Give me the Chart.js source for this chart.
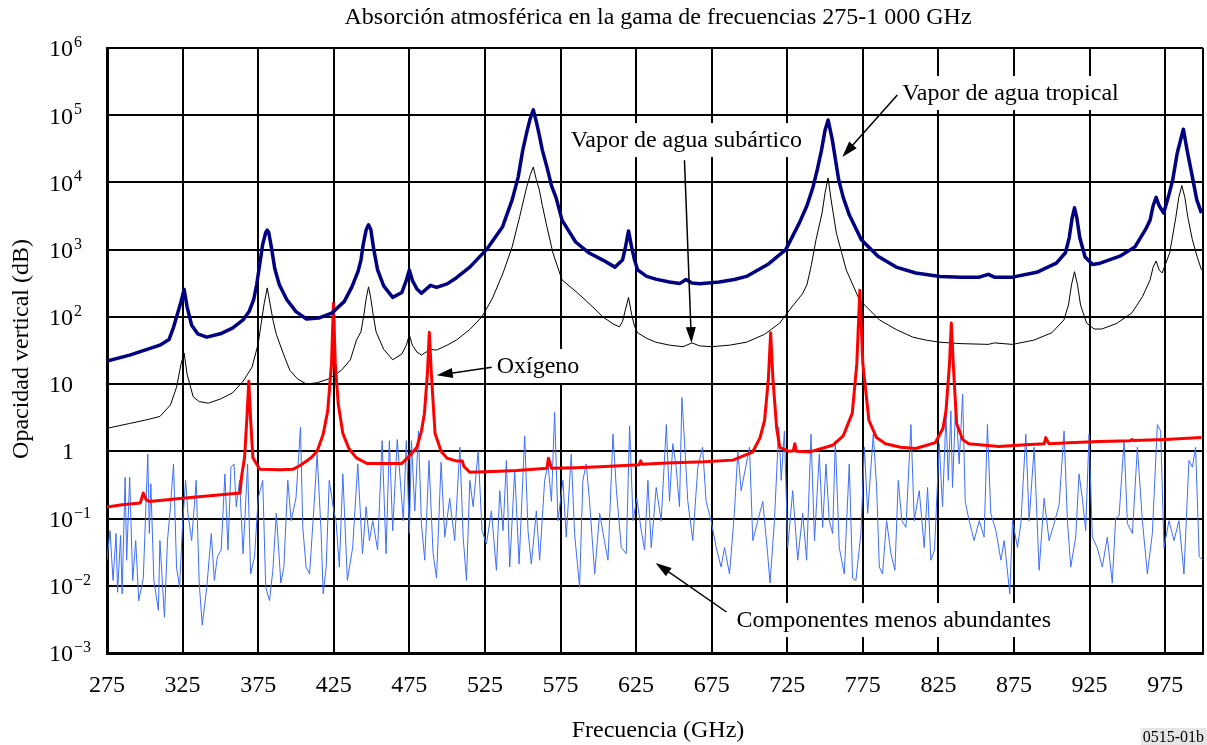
<!DOCTYPE html>
<html>
<head>
<meta charset="utf-8">
<script src="https://cdn.jsdelivr.net/npm/chart.js@4.4.1/dist/chart.umd.min.js"></script>
<style>
  html, body { margin: 0; padding: 0; background: #fff; }
  canvas { display: block; }
</style>
</head>
<body>
<canvas id="absChart" width="1207" height="745"></canvas>
<script>
// frecuencia (GHz), opacidad (dB)
var tropical = [[275,22],[290,27],[300,32],[310,38],[316,46],[319,70],[321,100],[324,170],[326,257],[328,140],[331,75],[335,56],[341,50],[350,56],[358,68],[365,90],[369,120],[372,180],[374,300],[376,600],[378,1200],[380,1800],[381,1950],[382,1800],[384,1000],[386,520],[389,300],[394,180],[400,120],[407,93],[415,96],[424,115],[432,170],[437,280],[441,470],[443,700],[444.5,1200],[446.5,2000],[448,2350],[449.5,2000],[451.5,1000],[454,500],[458,290],[464,195],[470,230],[473,350],[475,500],[477,350],[480,260],[483,225],[489,295],[493,275],[500,310],[506,380],[515,550],[526,1000],[536.7,2200],[543,5500],[547,12000],[550,30000],[553,60000],[555,90000],[557,120000],[559,80000],[561,50000],[563,30000],[566,17000],[569,9000],[572,6000],[576,2750],[585,1300],[594,890],[603,700],[611,550],[616,700],[618,1100],[620,1900],[622,1100],[624,700],[626,500],[632,400],[638,365],[647,330],[654,315],[658,360],[662,320],[667,310],[680,330],[690,360],[698,400],[712,600],[724,1000],[733,2500],[738,4500],[742,8500],[745,16000],[747.6,30000],[750,60000],[752,85000],[754.8,43000],[759,11000],[762,6000],[766,3300],[774,1400],[785,800],[797,550],[810,450],[826,400],[840,390],[852,390],[858,430],[862,390],[874,390],[890,460],[903,630],[909,900],[911.5,1500],[913.5,3000],[915,4200],[916.5,3000],[918.5,1500],[922,780],[927,600],[932,630],[945,800],[955,1100],[962,2000],[965,2750],[967,4500],[969,6000],[971,4500],[974,3500],[977,6000],[980,11000],[982.9,27000],[987,62000],[989.5,30000],[993,12000],[995.9,5500],[999,3500]];

var subarctic = [[275,2.2],[290,2.6],[300,2.9],[310,3.3],[317,4.9],[321,9],[324,20],[326,29],[328,14],[332,6.5],[336,5.5],[342,5.2],[350,6],[358,7.4],[365,11],[371,18],[375,40],[377,80],[379,160],[381,270],[383,150],[385,85],[387,55],[392,27],[396,16],[401,12],[407,10],[414,10.5],[422,12],[430,16],[436,23],[440,45],[443,60],[445,110],[446.5,190],[448,280],[449.5,190],[451,110],[453,60],[458,33],[464,23],[470,28],[473,38],[475,54],[477,38],[480,30],[483,27],[489,33],[493,32],[500,38],[506,45],[515,65],[523,100],[530,190],[537,450],[543,1100],[548,3100],[552.6,8500],[555,13000],[557,17000],[559,11000],[561,7700],[563,4500],[566,2200],[570,890],[576,355],[586,230],[595,150],[603,100],[610,78],[614,71],[616,85],[618,130],[620,195],[622,110],[624,72],[626,58],[632,48],[638,42],[647,38],[656,36],[662,41],[667,37],[675,36],[687,38],[698,42],[710,55],[720,81],[728,140],[735,220],[738,300],[741,600],[744,1400],[748,3500],[750,7000],[752,11700],[754,5500],[757.5,1750],[761,900],[764,500],[772.7,180],[786,90],[797,65],[808,50],[817,45],[826,42],[840,40],[858,39],[862,41],[874,39],[888,45],[900,58],[908,90],[911,150],[913,300],[915,470],[917,300],[919,150],[923,81],[928,66],[933,66],[943,80],[953,115],[960,200],[965,355],[967,550],[969,680],[971,500],[973,450],[978,900],[982,3000],[984,6000],[986,9000],[988,6000],[990,3000],[993,1400],[996,800],[999,500]];

var oxygen = [[275,0.148],[285,0.16],[297,0.17],[299,0.24],[301,0.19],[303,0.18],[325,0.2],[345,0.22],[363,0.24],[364,0.42],[366,0.81],[367.5,3],[368.8,11],[370,3],[371.5,0.8],[376,0.54],[390,0.53],[398,0.54],[403,0.62],[410,0.8],[414,1],[418,1.8],[421,4],[423.5,20],[424.8,160],[426,20],[428,5],[431,1.85],[435,1.1],[440,0.8],[447,0.66],[464,0.66],[470,0.66],[476,0.9],[480,1.15],[483,2],[485,3.7],[487,15],[488.2,59],[489.5,15],[492,1.85],[496,1],[500,0.79],[506,0.72],[510,0.72],[511,0.6],[515,0.49],[530,0.5],[546,0.52],[566,0.56],[567,0.79],[569,0.56],[585,0.57],[601,0.59],[627,0.63],[628,0.72],[629,0.64],[645,0.67],[670,0.7],[689,0.74],[702,0.97],[707,1.6],[710,2.9],[712.5,12],[714,58],[715.5,12],[718,2.2],[720,1.15],[726,1],[729,1.02],[730,1.3],[731,1],[740,0.98],[755,1.23],[762,1.7],[768,3.7],[771,20],[773,250],[775,20],[779,2.9],[784,1.6],[790,1.3],[800,1.15],[810,1.1],[823,1.35],[828,2.2],[830,4],[832.3,20],[833.5,81],[834.8,20],[837,2.6],[841,1.5],[845,1.3],[865,1.18],[880,1.24],[895,1.3],[896,1.6],[898,1.3],[915,1.35],[931,1.4],[952,1.44],[953,1.5],[954,1.45],[975,1.5],[999,1.6]];

var minor = [[275,0.024],[277,0.066],[279,0.012],[281,0.06],[282,0.008],[284,0.056],[285,0.0076],[287,0.41],[288,0.024],[290,0.41],[292,0.012],[294,0.047],[296,0.006],[299,0.013],[302,0.91],[303,0.06],[304,0.33],[306,0.012],[309,0.0043],[310,0.047],[313,0.0034],[315,0.047],[317,0.15],[319,0.65],[321,0.019],[323,0.0095],[325,0.084],[327,0.37],[328.5,0.12],[331,0.047],[334,0.37],[336,0.011],[338,0.0026],[341,0.0095],[344,0.06],[346,0.012],[348,0.027],[350.5,0.034],[353,0.46],[355,0.034],[357,0.58],[359,0.65],[360.5,0.15],[362.7,0.37],[365,0.03],[366.4,0.12],[368,0.65],[370,0.015],[372.6,0.027],[375,0.2],[378,0.37],[380,0.0095],[382.5,0.006],[384.7,0.017],[387,0.12],[390,0.011],[392,0.019],[394.6,0.37],[396.8,0.093],[400,0.2],[403,2.3],[404.5,0.074],[406.7,0.019],[409,0.015],[412,0.16],[414,0.91],[416.6,0.066],[418,0.0076],[420,0.019],[422,0.37],[425,0.13],[426.5,0.093],[428.7,0.019],[431,0.46],[434,0.012],[437.5,0.037],[440.9,0.65],[444,0.03],[446.4,0.15],[448.6,0.047],[450.8,0.093],[454,0.034],[457,1.44],[459.6,0.03],[461.8,1.44],[464,0.066],[467,1.5],[471,0.093],[473,1.44],[475,0.06],[476.4,1.44],[478.6,0.13],[481,2],[483,0.084],[485.2,0.024],[488,0.73],[490.7,0.03],[493,0.013],[496,0.69],[498.4,0.053],[501.7,0.2],[505,0.047],[508.4,1.15],[510.6,0.053],[512.8,0.012],[515,0.37],[517.2,0.15],[520.5,1],[523.1,0.066],[526,0.042],[529.3,0.13],[532.6,0.017],[534.8,0.26],[537,0.066],[539.2,0.73],[541.4,0.019],[544.7,0.52],[547.6,0.021],[551.3,1.7],[553.5,0.066],[555.7,0.021],[559,0.13],[561.2,0.024],[564.5,0.37],[566.7,0.65],[569,0.18],[571.1,3.8],[573.3,0.093],[576.6,0.37],[578.8,0.053],[582.1,0.91],[584.3,0.06],[587.6,0.0095],[589.8,0.37],[592,0.65],[594.2,0.18],[597.6,0.015],[600.9,0.12],[604,0.047],[606.4,0.024],[609.7,1.8],[612,0.26],[615.2,0.037],[618.5,0.03],[620.7,2.4],[623,0.093],[625.5,0.2],[628.4,0.066],[630.6,0.034],[632.8,0.37],[635,0.037],[638.3,0.29],[641.6,0.093],[645,2.5],[647.1,0.18],[649.3,1.3],[651.5,0.58],[653.7,0.15],[655.3,6.3],[657,1.44],[659.2,0.18],[662.5,0.047],[665.8,0.58],[669,1.15],[671.3,0.18],[674.6,0.093],[678,0.037],[681.2,0.019],[683.5,0.037],[686.8,0.015],[690,0.12],[692.3,1],[694.5,0.26],[700,1.15],[702.2,0.047],[705.5,0.093],[708.8,0.18],[712,0.03],[713.6,0.011],[716.5,0.093],[719.4,2.3],[721,0.37],[723.1,2],[725.3,0.037],[728.6,0.26],[731.9,0.024],[735.2,0.12],[737.8,0.024],[740.7,1.8],[743,0.047],[746.2,0.91],[748.4,0.074],[750.6,0.65],[752.8,0.093],[755,0.06],[756.8,1.44],[759.4,0.037],[762.7,0.015],[766,0.65],[768.2,0.013],[770.4,0.012],[773.7,0.06],[776,1.15],[778.2,0.12],[781.9,1.8],[784.1,0.29],[785.9,0.019],[788,0.015],[790.7,0.093],[793.6,0.03],[796.2,0.017],[798.4,0.37],[800.8,0.093],[803.5,0.074],[806.8,2.5],[809,0.093],[812.3,0.26],[815.6,0.037],[817.8,0.29],[820,0.024],[822.4,0.034],[825.5,1.3],[827.7,0.15],[830,3.6],[831.5,0.37],[833.2,4],[834.3,0.29],[836.5,5.6],[838.7,0.65],[841,7.1],[842.7,0.18],[845.3,0.093],[848.6,0.047],[852,0.093],[855.2,0.053],[857.4,2.5],[859.6,0.12],[863,0.066],[866.3,0.024],[868.5,0.047],[872.2,0.0076],[874,0.093],[877.3,0.037],[879.5,0.084],[882.8,1.8],[885,0.093],[888.3,1.15],[891.6,0.017],[894.9,0.2],[898.2,0.047],[901.5,0.084],[904.8,0.16],[908.1,2],[910.3,0.093],[912.5,0.019],[915.8,0.053],[918,0.46],[920.2,0.2],[922.4,0.066],[924.6,1.8],[926.8,0.053],[930,0.037],[933.4,0.019],[936.7,0.053],[940,0.011],[942.2,0.1],[944.5,0.11],[947.8,1.44],[950,0.084],[953.3,0.06],[956.6,1.15],[959.9,0.093],[963.2,0.015],[966.5,0.06],[969.8,2.5],[972,2],[974.2,0.037],[977.5,0.093],[980.8,0.047],[984.1,0.093],[987.4,0.015],[990.7,0.73],[993,0.58],[995.1,1.15],[997.5,0.027],[1000,0.024]];

var xTicks = [275, 325, 375, 425, 475, 525, 575, 625, 675, 725, 775, 825, 875, 925, 975];
var yExps = [-3, -2, -1, 0, 1, 2, 3, 4, 5, 6];

// etiquetas con flecha: texto, pos. texto (GHz, dB), inicio y punta de flecha
var notes = [
  { text: 'Vapor de agua tropical', x: 801, y: Math.pow(10, 5.33), from: [797.8, Math.pow(10, 5.30)], to: [761.4, Math.pow(10, 4.38)] },
  { text: 'Vapor de agua subártico', x: 581.7, y: Math.pow(10, 4.63), from: [657, Math.pow(10, 4.33)], to: [661.6, Math.pow(10, 1.61)] },
  { text: 'Oxígeno', x: 532.8, y: Math.pow(10, 1.27), from: [529.5, Math.pow(10, 1.25)], to: [493.1, Math.pow(10, 1.13)] },
  { text: 'Componentes menos abundantes', x: 691.4, y: Math.pow(10, -2.51), from: [684.8, Math.pow(10, -2.39)], to: [637.9, Math.pow(10, -1.66)] }
];

var serif = '"Liberation Serif", "Times New Roman", serif';

function pts(arr) {
  return arr.map(function (p) { return { x: p[0], y: p[1] }; });
}

function arrow(ctx, x1, y1, x2, y2) {
  var a = Math.atan2(y2 - y1, x2 - x1);
  var len = 16, w = 5;
  ctx.beginPath();
  ctx.moveTo(x1, y1);
  ctx.lineTo(x2 - Math.cos(a) * len * 0.8, y2 - Math.sin(a) * len * 0.8);
  ctx.stroke();
  ctx.beginPath();
  ctx.moveTo(x2, y2);
  ctx.lineTo(x2 - Math.cos(a) * len - Math.sin(a) * w, y2 - Math.sin(a) * len + Math.cos(a) * w);
  ctx.lineTo(x2 - Math.cos(a) * len + Math.sin(a) * w, y2 - Math.sin(a) * len - Math.cos(a) * w);
  ctx.closePath();
  ctx.fill();
}

var textPlugin = {
  id: 'textos',
  afterDraw: function (chart) {
    var ctx = chart.ctx, xs = chart.scales.x, ys = chart.scales.y;
    ctx.save();
    ctx.fillStyle = '#000';
    ctx.strokeStyle = '#000';

    // titulo
    ctx.font = '24px ' + serif;
    ctx.textAlign = 'center';
    ctx.textBaseline = 'middle';
    ctx.fillText('Absorción atmosférica en la gama de frecuencias 275-1 000 GHz', 658, 18);

    // eje x
    xTicks.forEach(function (v) {
      ctx.fillText(String(v), xs.getPixelForValue(v), 686);
    });
    ctx.fillText('Frecuencia (GHz)', 658, 731);

    // eje y
    yExps.forEach(function (e) {
      var py = ys.getPixelForValue(Math.pow(10, e));
      ctx.font = '24px ' + serif;
      ctx.textBaseline = 'middle';
      if (e === 0) {
        ctx.textAlign = 'center';
        ctx.fillText('1', 68, py + 1);
      } else {
        ctx.textAlign = 'left';
        ctx.fillText('10', 49, py + 2);
        if (e !== 1) {
          var w = ctx.measureText('10').width;
          ctx.font = '16px ' + serif;
          ctx.textBaseline = 'alphabetic';
          ctx.fillText(e < 0 ? '\u2212' + (-e) : String(e), 49 + w + 1, py - 1);
        }
      }
    });
    ctx.save();
    ctx.translate(22, 349);
    ctx.rotate(-Math.PI / 2);
    ctx.font = '24px ' + serif;
    ctx.textAlign = 'center';
    ctx.textBaseline = 'middle';
    ctx.fillText('Opacidad vertical (dB)', 0, 0);
    ctx.restore();

    // notas con flecha
    ctx.font = '24px ' + serif;
    ctx.textAlign = 'left';
    ctx.textBaseline = 'middle';
    ctx.lineWidth = 1.5;
    notes.forEach(function (n) {
      var px = xs.getPixelForValue(n.x), py = ys.getPixelForValue(n.y);
      var tw = ctx.measureText(n.text).width;
      ctx.fillStyle = '#fff';
      ctx.fillRect(px - 6, py - 17, tw + 12, 34);
      ctx.fillStyle = '#000';
      ctx.fillText(n.text, px, py + 1);
      arrow(ctx, xs.getPixelForValue(n.from[0]), ys.getPixelForValue(n.from[1]),
                 xs.getPixelForValue(n.to[0]), ys.getPixelForValue(n.to[1]));
    });

    // referencia
    ctx.font = '16px ' + serif;
    ctx.textAlign = 'right';
    ctx.textBaseline = 'middle';
    var rw = ctx.measureText('0515-01b').width;
    ctx.fillStyle = '#e6e6e6';
    ctx.fillRect(1206 - rw - 4, 728, rw + 5, 17);
    ctx.fillStyle = '#000';
    ctx.fillText('0515-01b', 1204, 738);
    ctx.restore();
  }
};

var ctx = document.getElementById('absChart');
new Chart(ctx, {
  type: 'line',
  data: {
    datasets: [
      { label: 'Vapor de agua tropical', data: pts(tropical), borderColor: '#000080', borderWidth: 3.5, order: 1 },
      { label: 'Oxígeno', data: pts(oxygen), borderColor: '#ff0000', borderWidth: 3, order: 2 },
      { label: 'Vapor de agua subártico', data: pts(subarctic), borderColor: '#000000', borderWidth: 1, order: 3 },
      { label: 'Componentes menos abundantes', data: pts(minor), borderColor: '#3d6dff', borderWidth: 1, order: 4 }
    ]
  },
  options: {
    responsive: false,
    animation: false,
    elements: { point: { radius: 0 }, line: { tension: 0, fill: false, borderJoinStyle: 'round' } },
    layout: { padding: { top: 48, right: 4, left: 0, bottom: 0 } },
    plugins: { legend: { display: false }, tooltip: { enabled: false }, title: { display: false } },
    scales: {
      x: {
        type: 'linear', min: 275, max: 1000,
        afterBuildTicks: function (s) { s.ticks = xTicks.concat([1000]).map(function (v) { return { value: v }; }); },
        afterFit: function (s) { s.height = 92; },
        ticks: { display: false },
        grid: { color: '#000', lineWidth: 2, drawTicks: false },
        border: { display: true, color: '#000', width: 3 }
      },
      y: {
        type: 'logarithmic', min: 0.001, max: 1000000,
        afterBuildTicks: function (s) { s.ticks = yExps.map(function (e) { return { value: Math.pow(10, e) }; }); },
        afterFit: function (s) { s.width = 107; },
        ticks: { display: false },
        grid: { color: '#000', lineWidth: 2, drawTicks: false },
        border: { display: true, color: '#000', width: 3 }
      }
    }
  },
  plugins: [textPlugin]
});
</script>
</body>
</html>
